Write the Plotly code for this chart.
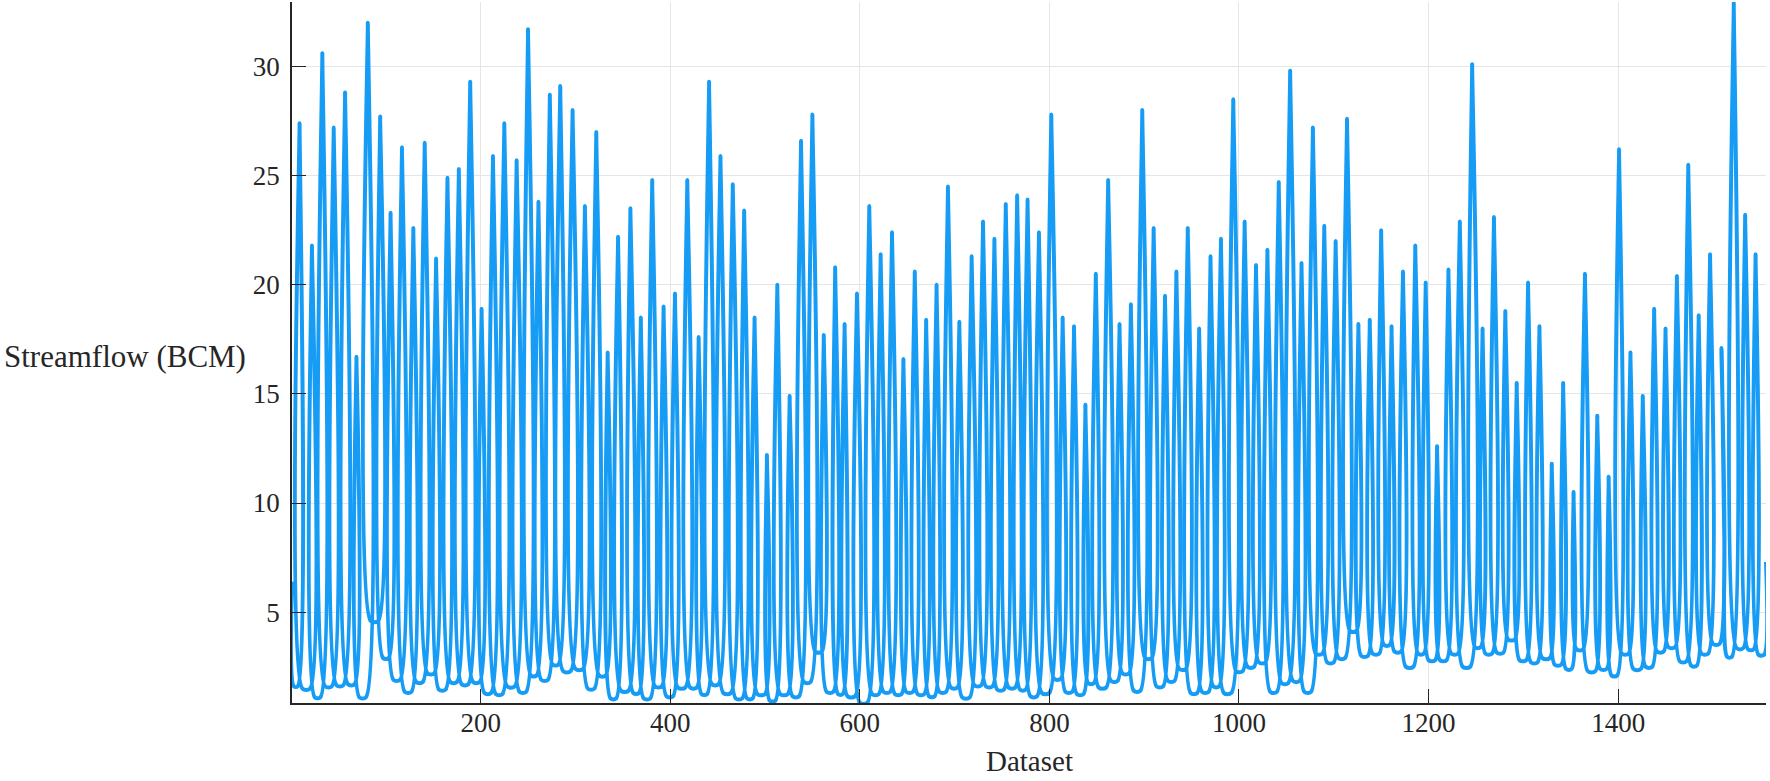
import plotly.graph_objects as go

PEAK_IDX = [9, 22, 33, 45, 57, 69, 81, 94, 105, 117, 129, 141, 153, 165, 177, 189,
            201, 213, 225, 238, 250, 261, 273, 284, 297, 310, 322, 334, 345, 358, 369, 381,
            393, 405, 418, 430, 441, 453, 466, 478, 489, 502, 513, 526, 538, 550, 562, 574, 584,
            597, 610, 622, 634, 646, 658, 670, 681, 693, 705, 718, 730, 742, 754, 766, 777,
            789, 802, 814, 826, 838, 849, 862, 874, 886, 898, 910, 922, 934, 946, 958, 970,
            981, 994, 1006, 1018, 1030, 1042, 1054, 1066, 1078, 1090, 1102, 1114, 1126, 1138, 1150, 1161,
            1173, 1186, 1197, 1209, 1221, 1233, 1246, 1257, 1269, 1281, 1293, 1305, 1317, 1330, 1342, 1353, 1365,
            1378, 1390, 1401, 1413, 1426, 1438, 1450, 1462, 1474, 1485, 1497, 1509, 1522, 1534, 1545]
PEAK_VAL = [27.4, 21.8, 30.6, 27.2, 28.8, 16.7, 32.0, 27.7, 23.3, 26.3, 22.6, 26.5, 21.2, 24.9, 25.3, 29.3,
            18.9, 25.9, 27.4, 25.7, 31.7, 23.8, 28.7, 29.1, 28.0, 23.6, 27.0, 16.9, 22.2, 23.5, 18.5, 24.8,
            19.0, 19.6, 24.8, 17.6, 29.3, 25.9, 24.6, 23.4, 18.5, 12.2, 20.0, 14.9, 26.6, 27.8, 17.7, 20.8, 18.2,
            19.6, 23.6, 21.4, 22.4, 16.6, 20.6, 18.4, 20.0, 24.5, 18.3, 21.3, 22.9, 22.1, 23.7, 24.1, 23.9,
            22.4, 27.8, 18.5, 18.1, 14.5, 20.5, 24.8, 18.2, 19.1, 28.0, 22.6, 19.5, 20.6, 22.6, 18.0, 21.3,
            22.1, 28.5, 22.9, 20.9, 21.6, 24.7, 29.8, 21.0, 27.2, 22.7, 22.0, 27.6, 18.2, 18.4, 22.5, 18.1,
            20.6, 21.8, 20.1, 12.6, 20.7, 22.9, 30.1, 18.0, 23.1, 18.8, 15.5, 20.1, 18.1, 11.8, 15.5, 10.5, 20.5,
            14.0, 11.2, 26.2, 16.9, 14.9, 18.9, 18.0, 20.4, 25.5, 18.6, 21.4, 17.1, 32.9, 23.2, 21.4]

# low-flow stretch between floods: first month, last month, level
LOW_FROM = [3, 12, 25, 36, 48, 60, 72, 84, 97, 108, 120, 132, 144, 156, 168, 180,
            192, 204, 216, 228, 241, 253, 264, 276, 287, 300, 313, 325, 337, 348, 361, 372, 384,
            396, 408, 421, 433, 444, 456, 469, 481, 492, 505, 516, 529, 541, 553, 565, 577,
            587, 600, 613, 625, 637, 649, 661, 673, 684, 696, 708, 721, 733, 745, 757, 769,
            780, 792, 805, 817, 829, 841, 852, 865, 877, 889, 901, 913, 925, 937, 949, 961,
            973, 984, 997, 1009, 1021, 1033, 1045, 1057, 1069, 1081, 1093, 1105, 1117, 1129, 1141, 1153, 1164,
            1176, 1189, 1200, 1212, 1224, 1236, 1249, 1260, 1272, 1284, 1296, 1308, 1320, 1333, 1345, 1356,
            1368, 1381, 1393, 1404, 1416, 1429, 1441, 1453, 1465, 1477, 1488, 1500, 1515, 1525, 1537, 1548]
LOW_TO = [7, 20, 31, 43, 55, 67, 79, 92, 103, 115, 127, 139, 151, 163, 175, 187,
          199, 211, 223, 236, 248, 259, 271, 282, 295, 308, 320, 332, 343, 356, 367, 379, 391,
          403, 416, 428, 439, 451, 464, 476, 487, 500, 511, 524, 536, 548, 560, 572, 582,
          595, 608, 620, 632, 644, 656, 668, 679, 691, 703, 716, 728, 740, 752, 764, 775,
          787, 800, 812, 824, 836, 847, 860, 872, 884, 896, 908, 920, 932, 944, 956, 968,
          979, 992, 1004, 1016, 1028, 1040, 1052, 1064, 1076, 1088, 1100, 1112, 1124, 1136, 1148, 1159, 1171,
          1184, 1195, 1207, 1219, 1231, 1244, 1255, 1267, 1279, 1291, 1303, 1315, 1328, 1340, 1351, 1363,
          1376, 1388, 1399, 1411, 1424, 1436, 1448, 1460, 1472, 1483, 1495, 1507, 1520, 1532, 1543, 1554]
LOW_VAL = [1.6, 1.5, 1.1, 1.6, 1.65, 1.7, 1.1, 4.6, 2.9, 1.9, 1.35, 1.8, 2.2, 1.45, 1.8, 1.7,
           1.8, 1.3, 1.25, 1.6, 1.35, 2.1, 1.9, 2.6, 2.3, 2.4, 1.5, 2.1, 1.05, 1.4, 1.3, 1.05, 1.6,
           1.15, 1.55, 1.55, 1.25, 1.7, 1.3, 1.05, 1.05, 1.25, 0.95, 1.25, 1.15, 1.8, 3.2, 1.35, 1.25,
           1.15, 0.85, 1.25, 1.35, 1.25, 1.35, 1.25, 1.15, 1.35, 1.55, 1.1, 1.65, 1.6, 1.45, 1.55, 1.45,
           1.15, 1.3, 1.95, 1.35, 1.25, 1.75, 1.55, 1.85, 2.2, 1.4, 2.9, 1.6, 1.85, 2.4, 1.3, 1.35,
           1.6, 1.3, 2.3, 2.5, 2.7, 1.35, 1.75, 1.85, 1.35, 3.1, 2.7, 2.9, 4.15, 3.0, 3.1, 3.5, 3.2,
           2.5, 3.1, 2.8, 2.8, 3.1, 2.5, 3.4, 3.1, 3.15, 3.75, 2.8, 2.7, 2.9, 2.6, 2.4, 3.3,
           2.3, 2.4, 2.1, 3.1, 2.4, 2.5, 3.2, 3.4, 2.75, 2.55, 3.1, 3.55, 2.95, 3.35, 3.3, 3.05]

# first value, a recession shoulder and the last value
EXTRA_IDX = [1, 1512, 1556]
EXTRA_VAL = [6.4, 8.5, 7.3]

X_TICKS = [200, 400, 600, 800, 1000, 1200, 1400]
Y_TICKS = [5, 10, 15, 20, 25, 30]

pts = sorted(zip(PEAK_IDX + LOW_FROM + LOW_TO + EXTRA_IDX,
                 PEAK_VAL + LOW_VAL + LOW_VAL + EXTRA_VAL))
x = [p[0] for p in pts]
y = [p[1] for p in pts]

FONT = "Liberation Serif"
INK = "#262626"

fig = go.Figure(
    go.Scatter(
        x=x,
        y=y,
        mode="lines",
        line=dict(color="#169CF5", width=4, shape="spline", smoothing=0.8),
        hovertemplate="%{x}: %{y:.2f}<extra></extra>",
    )
)

axis_style = dict(
    showgrid=True,
    gridcolor="#e5e5e5",
    gridwidth=1,
    zeroline=False,
    showline=True,
    linecolor=INK,
    linewidth=1.5,
    ticks="inside",
    ticklen=14,
    tickwidth=1,
    tickcolor=INK,
    tickfont=dict(family=FONT, size=27, color=INK),
)

fig.update_xaxes(axis_style, range=[1, 1556], tickvals=X_TICKS, ticklabelstandoff=-5)
fig.update_yaxes(axis_style, range=[0.84, 32.95], tickvals=Y_TICKS, ticklabelstandoff=5)

fig.add_annotation(
    text="Dataset", xref="paper", yref="paper", x=0.5, y=-0.083,
    xanchor="center", yanchor="middle", showarrow=False,
    font=dict(family=FONT, size=29, color=INK),
)
fig.add_annotation(
    text="Streamflow (BCM)", xref="paper", yref="paper", x=-0.1965, y=0.494,
    xanchor="left", yanchor="middle", showarrow=False,
    font=dict(family=FONT, size=31, color=INK),
)

fig.update_layout(
    width=1770,
    height=781,
    paper_bgcolor="white",
    plot_bgcolor="white",
    showlegend=False,
    margin=dict(l=292, r=4, t=2, b=78),
)

fig.write_html(
    "out.html",
    config={"displayModeBar": False},
    post_script="document.body.style.margin = '0';",
)
